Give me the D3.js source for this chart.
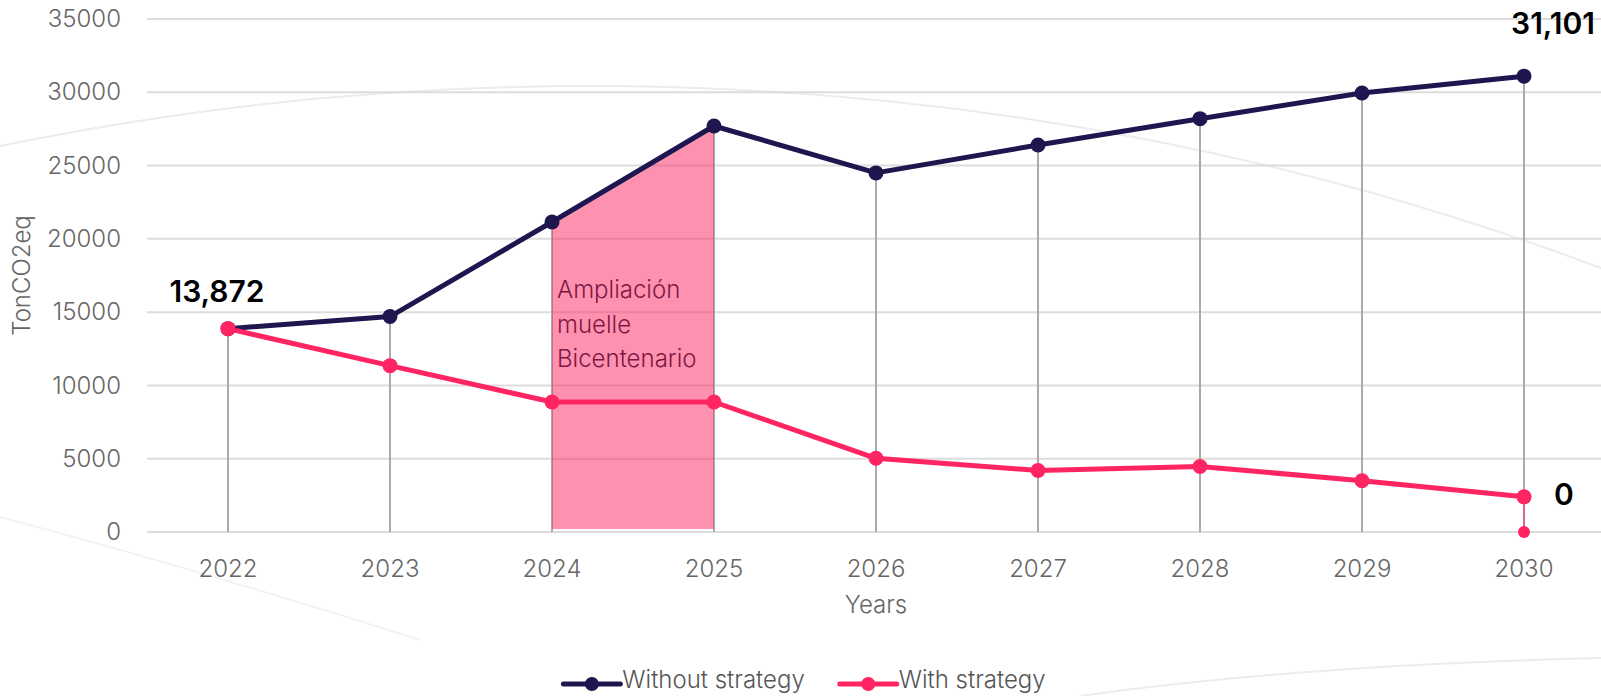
<!DOCTYPE html>
<html>
<head>
<meta charset="utf-8">
<script src="https://cdn.jsdelivr.net/npm/d3@7"></script>
<style>
  html, body { margin: 0; padding: 0; background: #fff; }
  svg { display: block; font-family: Inter, "Noto Sans", sans-serif; }
</style>
</head>
<body>
<svg id="chart" width="1601" height="696"></svg>
<script>
// data
const years = ['2022', '2023', '2024', '2025', '2026', '2027', '2028', '2029', '2030'];
const withoutStrategy = [13872, 14700, 21150, 27700, 24500, 26400, 28200, 29950, 31101];
const withStrategy = [13872, 11350, 8870, 8870, 5030, 4200, 4470, 3500, 2400];
const targetYear = '2030';
const targetValue = 0;
const yTicks = [0, 5000, 10000, 15000, 20000, 25000, 30000, 35000];
const highlight = ['2024', '2025'];
const highlightText = ['Ampliación', 'muelle', 'Bicentenario'];
const seriesNames = ['Without strategy', 'With strategy'];

const navy = '#1f1650';
const pink = '#ff2462';

const svg = d3.select('#chart');
const W = 1601;

const x = d3.scaleBand()
  .domain(years)
  .range([147, 147 + 162 * years.length])
  .padding(0);
const cx = d => x(d) + x.bandwidth() / 2;

const y = d3.scaleLinear()
  .domain([0, 35000])
  .range([532, 19]);

// faint decorative arcs in the background
const deco = svg.append('g').attr('fill', 'none').attr('stroke', '#ececec').attr('stroke-width', 2);
deco.append('ellipse')
  .attr('cx', 590).attr('cy', 86 + 1958)
  .attr('rx', 2400).attr('ry', 1958);
deco.append('path')
  .attr('d', 'M0,517 Q200,570 420,640')
  .attr('stroke', '#f3f3f3');
deco.append('path')
  .attr('d', 'M1080,696 Q1300,665 1601,658');

// gridlines
svg.append('g')
  .selectAll('line')
  .data(yTicks)
  .join('line')
    .attr('x1', x.range()[0])
    .attr('x2', x.range()[1])
    .attr('y1', d => y(d))
    .attr('y2', d => y(d))
    .attr('stroke', '#dcdcdc')
    .attr('stroke-width', 2);

// y axis labels
const yAxis = svg.append('g')
  .attr('transform', `translate(${x.range()[0] - 26},0)`)
  .call(d3.axisLeft(y).tickValues(yTicks).tickFormat(d3.format('d')).tickSize(0).tickPadding(0));
yAxis.select('.domain').remove();
yAxis.selectAll('text')
  .attr('font-size', 24)
  .attr('font-weight', 300)
  .attr('font-family', 'Inter, sans-serif')
  .attr('fill', '#666');

// x axis labels
const xAxis = svg.append('g')
  .attr('transform', `translate(0,${y(0)})`)
  .call(d3.axisBottom(x).tickSize(0).tickPadding(28));
xAxis.select('.domain').remove();
xAxis.selectAll('text')
  .attr('font-size', 24)
  .attr('font-weight', 300)
  .attr('font-family', 'Inter, sans-serif')
  .attr('fill', '#666');

// axis titles
svg.append('text')
  .attr('transform', `translate(30,${(y.range()[0] + y.range()[1]) / 2}) rotate(-90)`)
  .attr('text-anchor', 'middle')
  .attr('font-size', 24)
  .attr('font-weight', 300)
  .attr('fill', '#666')
  .text('TonCO2eq');

svg.append('text')
  .attr('x', (x.range()[0] + x.range()[1]) / 2)
  .attr('y', 613)
  .attr('text-anchor', 'middle')
  .attr('font-size', 24)
  .attr('font-weight', 300)
  .attr('fill', '#666')
  .text('Years');

// drop lines from the top point of each year
svg.append('g')
  .selectAll('line')
  .data(years)
  .join('line')
    .attr('x1', d => cx(d))
    .attr('x2', d => cx(d))
    .attr('y1', (d, i) => y(Math.max(withoutStrategy[i], withStrategy[i])))
    .attr('y2', y(0))
    .attr('stroke', '#aaa')
    .attr('stroke-width', 2);

// highlighted period under the "without strategy" line
const hiIdx = highlight.map(d => years.indexOf(d));
const hiData = hiIdx.map(i => ({ year: years[i], v: withoutStrategy[i] }));
svg.append('path')
  .datum(hiData)
  .attr('fill', pink)
  .attr('fill-opacity', 0.5)
  .attr('d', d3.area()
    .x(d => cx(d.year))
    .y0(y(0) - 3)
    .y1(d => y(d.v) + 3));

svg.append('g')
  .selectAll('text')
  .data(highlightText)
  .join('text')
    .attr('x', cx(highlight[0]) + 5)
    .attr('y', (d, i) => y(15950) + i * 34.5)
    .attr('font-size', 24)
    .attr('font-weight', 300)
    .attr('fill', '#7d1842')
    .text(d => d);

// target link 2030
svg.append('line')
  .attr('x1', cx(targetYear))
  .attr('x2', cx(targetYear))
  .attr('y1', y(withStrategy[years.indexOf(targetYear)]))
  .attr('y2', y(targetValue))
  .attr('stroke', pink)
  .attr('stroke-opacity', 0.45)
  .attr('stroke-width', 2);

// lines + points
const lineGen = d3.line()
  .x((d, i) => cx(years[i]))
  .y(d => y(d));

[[withoutStrategy, navy], [withStrategy, pink]].forEach(([vals, col]) => {
  svg.append('path')
    .datum(vals)
    .attr('fill', 'none')
    .attr('stroke', col)
    .attr('stroke-width', 5)
    .attr('stroke-linejoin', 'round')
    .attr('d', lineGen);
});

[[withoutStrategy, navy], [withStrategy, pink]].forEach(([vals, col]) => {
  svg.append('g')
    .selectAll('circle')
    .data(vals)
    .join('circle')
      .attr('cx', (d, i) => cx(years[i]))
      .attr('cy', d => y(d))
      .attr('r', 7.5)
      .attr('fill', col);
});

svg.append('circle')
  .attr('cx', cx(targetYear))
  .attr('cy', y(targetValue))
  .attr('r', 6)
  .attr('fill', pink);

// value labels
const fmt = d3.format(',');
const labels = [
  { x: cx(years[0]) - 11, y: y(withoutStrategy[0]) - 27, t: fmt(withoutStrategy[0]), a: 'middle' },
  { x: cx(years[years.length - 1]) + 29, y: y(withoutStrategy[years.length - 1]) - 42, t: fmt(withoutStrategy[years.length - 1]), a: 'middle' },
  { x: cx(targetYear) + 40, y: y(withStrategy[years.length - 1]) + 8, t: fmt(targetValue), a: 'middle' }
];
svg.append('g')
  .selectAll('text')
  .data(labels)
  .join('text')
    .attr('x', d => d.x)
    .attr('y', d => d.y)
    .attr('text-anchor', d => d.a)
    .attr('font-size', 30)
    .attr('font-weight', 600)
    .attr('fill', '#000')
    .text(d => d.t);

// legend, centred on the page
const legend = svg.append('g').attr('transform', 'translate(0,684)');
let lx = 0;
seriesNames.forEach((name, i) => {
  const g = legend.append('g').attr('transform', `translate(${lx},0)`);
  const col = i === 0 ? navy : pink;
  g.append('line')
    .attr('x1', 0).attr('x2', 57)
    .attr('stroke', col).attr('stroke-width', 5).attr('stroke-linecap', 'round');
  g.append('circle').attr('cx', 28.5).attr('r', 7).attr('fill', col);
  const t = g.append('text')
    .attr('x', 59)
    .attr('y', 4)
    .attr('font-size', 24)
    .attr('font-weight', 300)
    .attr('fill', '#555')
    .text(name);
  lx += 59 + t.node().getComputedTextLength() + 35;
});
const legendW = lx - 35;
legend.attr('transform', `translate(${W / 2 - legendW / 2 + 4},684)`);
</script>
</body>
</html>
